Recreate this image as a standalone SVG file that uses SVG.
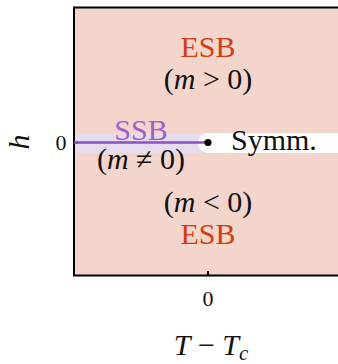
<svg xmlns="http://www.w3.org/2000/svg" width="338" height="364" viewBox="0 0 338 364" font-family="'Liberation Serif', serif">
<style>
.big{font-size:30px}
.tick{font-size:22px}
.esb{fill:#cf3f10}
.ssb{fill:#9c62c6}
.blk{fill:#111}
.it{font-style:italic}
</style>
<rect x="0" y="0" width="338" height="364" fill="#ffffff"/>
<g id="regions">
<rect x="74" y="8" width="264" height="267" fill="#f4d5cc"/>
<rect x="74" y="133" width="134" height="20" fill="#e7dbee"/>
<path d="M338,133 H208 A10,10 0 0 0 208,153 H338 Z" fill="#ffffff"/>
</g>
<g id="axes" stroke="#000" stroke-width="2" fill="none">
<path d="M74,7.5 H338"/>
<path d="M74,6.5 V276"/>
<path d="M73,275.5 H338"/>
<path d="M208,275 V271"/>
<path d="M74,142.5 H78"/>
</g>
<g id="connectors">
<path d="M74,142.5 H208" stroke="#8752ba" stroke-width="2.6" fill="none"/>
</g>
<g id="critical-point">
<circle cx="208" cy="142.5" r="3.6" fill="#000"/>
</g>
<g id="esb-top">
<text class="big esb" x="208" y="57" text-anchor="middle">ESB</text>
<text class="big blk" x="208" y="89" text-anchor="middle">(<tspan class="it">m</tspan> &gt; 0)</text>
</g>
<g id="ssb">
<text class="big ssb" x="141" y="140" text-anchor="middle">SSB</text>
<text class="big blk" x="141" y="169" text-anchor="middle">(<tspan class="it">m</tspan> ≠ 0)</text>
</g>
<g id="symm">
<text class="big blk" x="231" y="150">Symm.</text>
</g>
<g id="esb-bottom">
<text class="big blk" x="208" y="212" text-anchor="middle">(<tspan class="it">m</tspan> &lt; 0)</text>
<text class="big esb" x="208" y="244" text-anchor="middle">ESB</text>
</g>
<g id="labels">
<text class="tick blk" x="61" y="150" text-anchor="middle">0</text>
<text class="tick blk" x="208" y="306" text-anchor="middle">0</text>
<text class="big blk" x="211" y="355" text-anchor="middle"><tspan class="it">T</tspan> − <tspan class="it">T</tspan><tspan class="it" font-size="21" dy="5">c</tspan></text>
<text class="big blk it" x="0" y="0" text-anchor="middle" transform="translate(29,142) rotate(-90)">h</text>
</g>
</svg>
